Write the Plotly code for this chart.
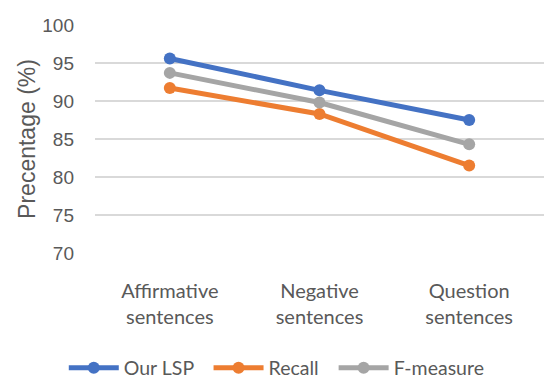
import plotly.graph_objects as go

categories = ["Affirmative<br>sentences", "Negative<br>sentences", "Question<br>sentences"]
our_lsp = [95.6, 91.4, 87.5]
recall = [91.7, 88.3, 81.5]
f_measure = [93.7, 89.8, 84.3]
y_ticks = [70, 75, 80, 85, 90, 95, 100]

series = [
    ("Our LSP", our_lsp, "#4472C4"),
    ("Recall", recall, "#ED7D31"),
    ("F-measure", f_measure, "#A5A5A5"),
]

# non-breaking spaces widen the gap between horizontal legend entries
legend_pad = "\u00a0\u00a0"

fig = go.Figure()
for name, vals, color in series:
    fig.add_trace(go.Scatter(
        x=categories, y=vals, name=name + legend_pad, mode="lines+markers",
        line=dict(color=color, width=5),
        marker=dict(color=color, size=12),
    ))

humanist = "Lato, 'Open Sans', sans-serif"
regular = "'Liberation Sans', Arial, sans-serif"
text_color = "#595959"

fig.update_layout(
    width=544, height=378,
    margin=dict(l=95, r=0, t=25, b=125, autoexpand=False),
    plot_bgcolor="white", paper_bgcolor="white",
    font=dict(family=regular, color=text_color, size=16),
    showlegend=True,
    legend=dict(orientation="h", x=0.416, xanchor="center", y=-0.505, yanchor="middle",
                font=dict(family=humanist, size=19.5, color=text_color), itemwidth=50),
    xaxis=dict(range=[-0.5, 2.5], showgrid=False, showline=False, zeroline=False,
               automargin=False, ticks="", ticklabelstandoff=24,
               tickfont=dict(family=humanist, size=20)),
    yaxis=dict(range=[70, 100], tickvals=y_ticks, showgrid=True, gridcolor="#D9D9D9",
               gridwidth=2, zeroline=False, showline=False, ticks="", automargin=False,
               ticklabelstandoff=20, tickfont=dict(family=regular, size=19),
               title=dict(text="Precentage (%)", font=dict(family=regular, size=23),
                          standoff=0)),
)

fig.write_html("out.html")
